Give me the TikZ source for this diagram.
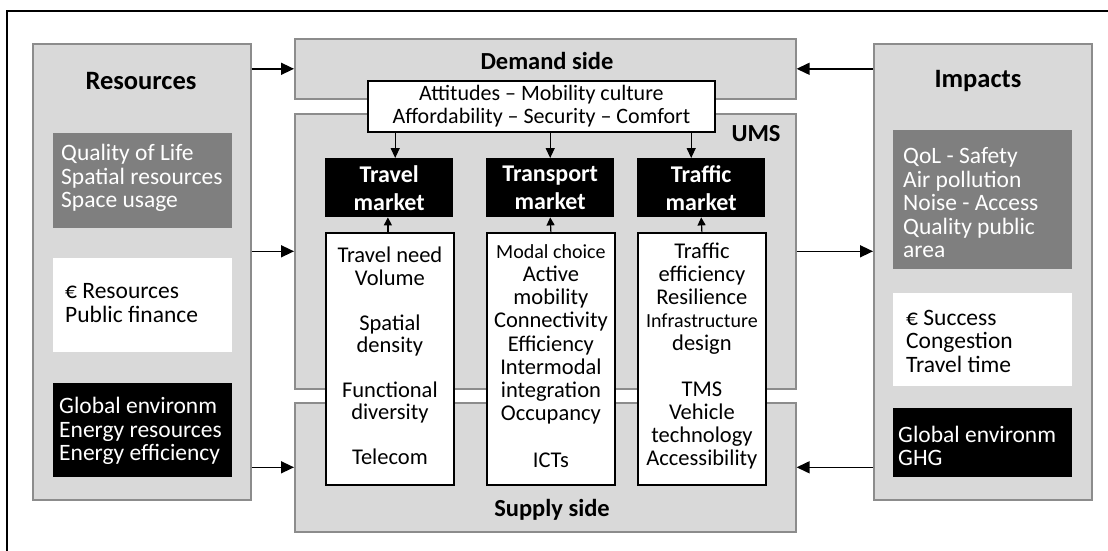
\documentclass[tikz,border=0pt]{standalone}
\usepackage{fontspec}
\setmainfont{Carlito}
\usetikzlibrary{arrows.meta}
\definecolor{lg}{HTML}{D9D9D9}
\definecolor{bd}{HTML}{8C8C8C}
\definecolor{dg}{HTML}{7F7F7F}
\tikzset{
  panel/.style={draw=bd, fill=lg, line width=1.6pt, anchor=north west, inner sep=0pt},
  sbox/.style={anchor=north west, minimum width=179, inner sep=0pt},
  ptext/.style={anchor=west, align=left, inner sep=0pt, font=\fontsize{23.5}{23.5}\selectfont},
  title/.style={font=\fontsize{26.5}{28}\selectfont\bfseries},
  sidetitle/.style={font=\fontsize{24.5}{28}\selectfont\bfseries},
  market/.style={fill=black, text=white, anchor=north west, minimum width=128, minimum height=59, inner sep=0pt, align=center, font=\fontsize{24}{28}\selectfont\bfseries},
  column/.style={draw=black, fill=white, line width=1.8pt, anchor=north west, minimum width=128, minimum height=252, inner sep=0pt},
  coltext/.style={align=center, font=\fontsize{22.5}{23}\selectfont},
  arr/.style={line width=1.5pt, -{Triangle[length=13pt,width=12pt]}},
  sarr/.style={line width=1.2pt, -{Triangle[length=10pt,width=9pt]}},
  uarr/.style={line width=1.2pt, -{Triangle[length=8pt,width=8pt]}},
}
\begin{document}
\begin{tikzpicture}[x=1pt,y=-1pt]
\useasboundingbox (0,0) rectangle (1108,550);
\fill[white] (0,0) rectangle (1108,550);
% outer frame
\draw[line width=1.6pt] (7,570) -- (7,11) -- (1120,11);

% Resources panel
\node[panel, minimum width=218, minimum height=456] (res) at (32,43) {};
\node[title] (restitle) at (141,81) {Resources};
\node[sbox, fill=dg, minimum height=95] (rq) at (53,133) {};
\node[ptext, text=white] (rqt) at (61,178) {Quality of Life\\Spatial resources\\Space usage};
\node[sbox, fill=white, minimum height=94] (rf) at (53,258) {};
\node[ptext] (rft) at (65,303) {€ Resources\\Public finance};
\node[sbox, fill=black, minimum height=94] (re) at (53,383) {};
\node[ptext, text=white] (ret) at (59,431) {Global environm\\Energy resources\\Energy efficiency};

% Impacts panel
\node[panel, minimum width=218, minimum height=456] (imp) at (873,43) {};
\node[title] (imptitle) at (978,81) {Impacts};
\node[sbox, fill=dg, minimum height=139] (iq) at (893,130) {};
\node[ptext, text=white] (iqt) at (903,203) {QoL - Safety\\Air pollution\\Noise - Access\\Quality public\\area};
\node[sbox, fill=white, minimum height=93] (is) at (893,293) {};
\node[ptext] (ist) at (906,341) {€ Success\\Congestion\\Travel time};
\node[sbox, fill=black, minimum height=69] (ig) at (893,408) {};
\node[ptext, text=white] (igt) at (898,446) {Global environm\\GHG};

% Demand, UMS, Supply
\node[panel, minimum width=501, minimum height=60] (dem) at (294,38) {};
\node[sidetitle] (demtitle) at (547,61) {Demand side};
\node[panel, minimum width=501, minimum height=275] (ums) at (294,113) {};
\node[sidetitle] (umstitle) at (756,134) {UMS};
\node[panel, minimum width=501, minimum height=129] (sup) at (294,402) {};
\node[sidetitle] (suptitle) at (552,510) {Supply side};

% Attitudes box
\node[draw=black, fill=white, line width=1.8pt, anchor=north west, minimum width=347, minimum height=51, inner sep=0pt, align=center, font=\fontsize{22}{23}\selectfont] (att) at (367,80) {Attitudes – Mobility culture\\Affordability – Security – Comfort};

% Market boxes
\node[market] (tm) at (325,158) {Travel\\market};
\node[market] (pm) at (486,158) {Transport\\market};
\node[market] (fm) at (637,158) {Traffic\\market};

% Columns
\node[column] (tc) at (325,232) {};
\node[column] (pc) at (486,232) {};
\node[column] (fc) at (637,232) {};
\node[coltext, font=\fontsize{22.5}{22.4}\selectfont] (tct) at ([yshift=3]tc.center) {Travel need\\Volume\\[22.4pt]Spatial\\density\\[22.4pt]Functional\\diversity\\[22.4pt]Telecom};
\node[coltext, font=\fontsize{22.5}{23.2}\selectfont] (pct) at ([yshift=3]pc.center) {{\fontsize{20}{23.2}\selectfont Modal choice}\\Active\\mobility\\Connectivity\\Efficiency\\Intermodal\\integration\\Occupancy\\[23.2pt]ICTs};
\node[coltext] (fct) at ([yshift=3]fc.center) {Traffic\\efficiency\\Resilience\\{\fontsize{20}{23}\selectfont Infrastructure}\\design\\[23pt]TMS\\Vehicle\\technology\\Accessibility};

% Side arrows
\draw[arr] (res.east |- dem.west) -- (dem.west);
\draw[arr] (res.east |- ums.west) -- (ums.west);
\draw[arr] (res.east |- sup.west) -- (sup.west);
\draw[arr] (imp.west |- dem.east) -- (dem.east);
\draw[arr] (ums.east) -- (imp.west |- ums.east);
\draw[arr] (imp.west |- sup.east) -- (sup.east);

% Attitudes to markets
\coordinate (tmin) at ([xshift=6]tm.north);
\coordinate (fmin) at ([xshift=-10]fm.north);
\draw[sarr] (att.south -| tmin) -- (tmin);
\draw[sarr] (att.south -| pm.north) -- (pm.north);
\draw[sarr] (att.south -| fmin) -- (fmin);

% Columns to markets
\coordinate (tcout) at ([xshift=-2]tc.north);
\draw[uarr] (tcout) -- (tcout |- tm.south);
\draw[uarr] (pc.north) -- (pm.south);
\draw[uarr] (fc.north) -- (fm.south);
\end{tikzpicture}
\end{document}
